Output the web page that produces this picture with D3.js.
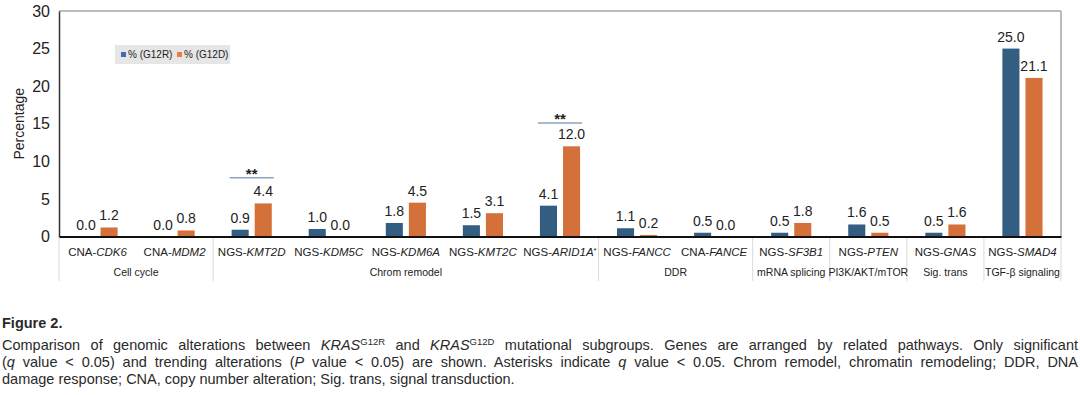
<!DOCTYPE html>
<html>
<head>
<meta charset="utf-8">
<script src="https://cdn.jsdelivr.net/npm/d3@7"></script>
<style>
  body { margin: 0; background: #fff; }
  #chart { position: relative; width: 1080px; height: 395px; overflow: hidden; }
  svg text { font-family: "Liberation Sans", Arial, sans-serif; }
  .caption { position: absolute; left: 2px; width: 1076px; font-family: "Liberation Sans", Arial, sans-serif; color: #2a2a2a; }
  .caption .ln { font-size: 14.5px; text-align: justify; text-align-last: justify; white-space: nowrap; height: 17px; line-height: 17px; }
  .caption .ln.last { text-align-last: left; }
  .caption sup { font-size: 9.5px; vertical-align: 5px; line-height: 0; }
</style>
</head>
<body>
<div id="chart"></div>
<script>
// data
var genes = ["CDK6", "MDM2", "KMT2D", "KDM5C", "KDM6A", "KMT2C", "ARID1A", "FANCC", "FANCE", "SF3B1", "PTEN", "GNAS", "SMAD4"];
var prefixes = ["CNA-", "CNA-", "NGS-", "NGS-", "NGS-", "NGS-", "NGS-", "NGS-", "CNA-", "NGS-", "NGS-", "NGS-", "NGS-"];
var suffixes = ["", "", "", "", "", "", "*", "", "", "", "", "", ""];
var g12r = [0.0, 0.0, 0.9, 1.0, 1.8, 1.5, 4.1, 1.1, 0.5, 0.5, 1.6, 0.5, 25.0];
var g12d = [1.2, 0.8, 4.4, 0.0, 4.5, 3.1, 12.0, 0.2, 0.0, 1.8, 0.5, 1.6, 21.1];
var groupNames = ["Cell cycle", "Chrom remodel", "DDR", "mRNA splicing", "PI3K/AKT/mTOR", "Sig. trans", "TGF-\u03b2 signaling"];
var groupSizes = [2, 5, 2, 1, 1, 1, 1];
var sigGenes = ["KMT2D", "ARID1A"];
var sigLevels = [7.8, 15.1];
var yTicks = [0, 5, 10, 15, 20, 25, 30];
var seriesNames = ["G12R", "G12D"];
var seriesLabels = ["% (G12R)", "% (G12D)"];

var colors = { G12R: "#335e82", G12D: "#d4703a" };
var legendColors = { G12R: "#4566bd", G12D: "#ea7e3a" };

var svgWidth = 1080, svgHeight = 395;
var margin = { top: 11, left: 59, right: 19 };
var plotBottom = 236.5;

var container = d3.select("#chart");
var svg = container.append("svg")
  .attr("width", svgWidth)
  .attr("height", svgHeight)
  .style("position", "absolute")
  .style("left", 0).style("top", 0);

var x = d3.scaleBand()
  .domain(genes)
  .range([margin.left, svgWidth - margin.right])
  .padding(0);

var xInner = d3.scaleBand()
  .domain(seriesNames)
  .range([0, x.bandwidth()])
  .paddingInner(0.26)
  .paddingOuter(0.8);

var y = d3.scaleLinear()
  .domain([0, 30])
  .range([plotBottom, margin.top]);

var rows = genes.map(function(g, i) {
  return { gene: g, prefix: prefixes[i], suffix: suffixes[i], G12R: g12r[i], G12D: g12d[i] };
});

// frame top + right
svg.append("line")
  .attr("x1", x.range()[0]).attr("x2", x.range()[1])
  .attr("y1", y(30)).attr("y2", y(30))
  .attr("stroke", "#7a7a7a").attr("stroke-width", 1);
svg.append("line")
  .attr("x1", x.range()[1]).attr("x2", x.range()[1])
  .attr("y1", y(30)).attr("y2", plotBottom)
  .attr("stroke", "#7a7a7a").attr("stroke-width", 1);

// group separators below axis
var bounds = [0];
groupSizes.forEach(function(s) { bounds.push(bounds[bounds.length - 1] + s); });
var boundX = bounds.map(function(b) { return b < genes.length ? x(genes[b]) : x.range()[1]; });

svg.selectAll(".sep")
  .data(boundX)
  .enter()
  .append("line")
  .attr("class", "sep")
  .attr("x1", d => d).attr("x2", d => d)
  .attr("y1", plotBottom).attr("y2", 281)
  .attr("stroke", "#d9d9d9").attr("stroke-width", 1);

// y axis
var leftAxis = d3.axisLeft(y)
  .tickValues(yTicks)
  .tickSize(0)
  .tickPadding(9)
  .tickFormat(d3.format("d"));

var yAxisG = svg.append("g")
  .attr("transform", `translate(${margin.left}, 0)`)
  .call(leftAxis);
yAxisG.select(".domain").attr("stroke", "#333").attr("stroke-width", 1.5);
yAxisG.selectAll("text")
  .attr("font-size", "16px")
  .attr("fill", "#222")
  .style("font-family", "'Liberation Sans', Arial, sans-serif");

svg.append("text")
  .attr("transform", `translate(24, ${(y(30) + plotBottom) / 2}) rotate(-90)`)
  .attr("text-anchor", "middle")
  .attr("font-size", "14px")
  .attr("fill", "#222")
  .text("Percentage");

// bars
var geneGroups = svg.selectAll(".gene")
  .data(rows)
  .enter()
  .append("g")
  .attr("class", "gene")
  .attr("transform", d => `translate(${x(d.gene)}, 0)`);

geneGroups.selectAll("rect")
  .data(d => seriesNames.map(s => ({ key: s, value: d[s] })))
  .enter()
  .append("rect")
  .attr("x", d => xInner(d.key))
  .attr("width", xInner.bandwidth())
  .attr("y", d => y(d.value))
  .attr("height", d => plotBottom - y(d.value))
  .attr("fill", d => colors[d.key]);

geneGroups.selectAll(".val")
  .data(d => seriesNames.map(s => ({ key: s, value: d[s] })))
  .enter()
  .append("text")
  .attr("class", "val")
  .attr("x", d => xInner(d.key) + xInner.bandwidth() / 2)
  .attr("y", d => y(d.value) - 7)
  .attr("text-anchor", "middle")
  .attr("font-size", "14px")
  .attr("fill", "#222")
  .text(d => d3.format(".1f")(d.value));

// x axis baseline + tick labels
var bottomAxis = d3.axisBottom(x).tickSize(0).tickPadding(11).tickFormat("");
var xAxisG = svg.append("g")
  .attr("transform", `translate(0, ${plotBottom})`)
  .call(bottomAxis);
xAxisG.select(".domain").attr("stroke", "#111").attr("stroke-width", 2.2);

xAxisG.selectAll(".tick text")
  .attr("font-size", "11.5px")
  .attr("fill", "#222")
  .attr("dy", "0.71em")
  .each(function(d, i) {
    var t = d3.select(this);
    t.append("tspan").text(rows[i].prefix);
    t.append("tspan").attr("font-style", "italic").text(rows[i].gene);
    if (rows[i].suffix) t.append("tspan").attr("font-size", "8px").attr("dy", "-3").text(rows[i].suffix);
  });

// group labels
svg.selectAll(".grp")
  .data(groupNames)
  .enter()
  .append("text")
  .attr("class", "grp")
  .attr("x", (d, i) => (boundX[i] + boundX[i + 1]) / 2)
  .attr("y", 276)
  .attr("text-anchor", "middle")
  .attr("font-size", "10.5px")
  .attr("fill", "#222")
  .text(d => d);

// significance markers
sigGenes.forEach(function(g, i) {
  var x0 = x(g) + xInner("G12R") - 2;
  var x1 = x(g) + xInner("G12D") + xInner.bandwidth() + 2;
  svg.append("line")
    .attr("x1", x0).attr("x2", x1)
    .attr("y1", y(sigLevels[i])).attr("y2", y(sigLevels[i]))
    .attr("stroke", "#8da4bf").attr("stroke-width", 1.5);
  svg.append("text")
    .attr("x", (x0 + x1) / 2)
    .attr("y", y(sigLevels[i]) + 1)
    .attr("text-anchor", "middle")
    .attr("font-size", "15px")
    .attr("font-weight", "bold")
    .attr("fill", "#222")
    .text("**");
});

// legend
var legend = svg.append("g").attr("transform", "translate(115, 45)");
legend.append("rect")
  .attr("width", 115).attr("height", 19)
  .attr("fill", "#e6e6e6");
var legendItems = legend.selectAll(".li")
  .data(seriesNames)
  .enter()
  .append("g")
  .attr("class", "li")
  .attr("transform", (d, i) => `translate(${6 + i * 56}, 0)`);
legendItems.append("rect")
  .attr("y", 7).attr("width", 5).attr("height", 5)
  .attr("fill", d => legendColors[d]);
legendItems.append("text")
  .attr("x", 7).attr("y", 13)
  .attr("font-size", "10px")
  .attr("fill", "#222")
  .text((d, i) => seriesLabels[i]);

// caption
var cap = container.append("div").attr("class", "caption").style("top", "313px");
cap.append("div")
  .style("font-weight", "bold").style("font-size", "14.5px")
  .style("height", "24px").style("line-height", "20px")
  .text("Figure 2.");
cap.append("div").attr("class", "ln")
  .html("Comparison of genomic alterations between <i>KRAS</i><sup>G12R</sup> and <i>KRAS</i><sup>G12D</sup> mutational subgroups. Genes are arranged by related pathways. Only significant");
cap.append("div").attr("class", "ln")
  .html("(<i>q</i> value &lt; 0.05) and trending alterations (<i>P</i> value &lt; 0.05) are shown. Asterisks indicate <i>q</i> value &lt; 0.05. Chrom remodel, chromatin remodeling; DDR, DNA");
cap.append("div").attr("class", "ln last")
  .text("damage response; CNA, copy number alteration; Sig. trans, signal transduction.");
</script>
</body>
</html>
